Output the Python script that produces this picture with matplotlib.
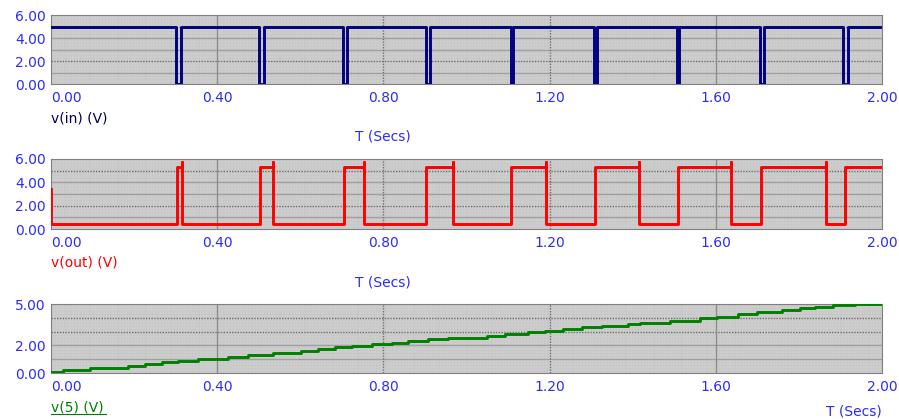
import matplotlib.pyplot as plt
from matplotlib.lines import Line2D
import numpy as np

# v(in): short drops to 0 V
vin_high = 5.0
vin_fall = [0.301, 0.501, 0.702, 0.902, 1.106, 1.306, 1.506, 1.706, 1.906]
vin_rise = [0.313, 0.513, 0.713, 0.912, 1.113, 1.313, 1.512, 1.717, 1.917]

# v(out): pulses with a spike at the falling edge
vout_start = 3.4
vout_low = 0.4
vout_high = 5.3
vout_spike = 5.7
vout_rise = [0.303, 0.504, 0.705, 0.903, 1.108, 1.310, 1.509, 1.709, 1.910]
vout_fall = [0.316, 0.534, 0.753, 0.968, 1.191, 1.414, 1.636, 1.865]

# v(5): staircase
v5_t = [0.000, 0.030, 0.094, 0.186, 0.226, 0.266, 0.305, 0.354, 0.427, 0.475,
        0.535, 0.601, 0.643, 0.683, 0.724, 0.772, 0.820, 0.860, 0.908, 0.956,
        1.049, 1.093, 1.149, 1.189, 1.233, 1.277, 1.325, 1.389, 1.418, 1.490,
        1.562, 1.602, 1.654, 1.699, 1.759, 1.803, 1.839, 1.883, 1.935, 2.000]
v5_v = [0.05, 0.20, 0.38, 0.51, 0.63, 0.77, 0.89, 1.01, 1.14, 1.30,
        1.45, 1.60, 1.72, 1.85, 1.97, 2.10, 2.20, 2.32, 2.44, 2.52,
        2.66, 2.82, 2.95, 3.07, 3.19, 3.31, 3.43, 3.53, 3.65, 3.79,
        3.98, 4.08, 4.25, 4.42, 4.54, 4.69, 4.80, 4.91, 4.98, 4.98]

x_ticks = [0.0, 0.4, 0.8, 1.2, 1.6, 2.0]

# build the traces
vin_t, vin_v = [0.0], [vin_high]
for f, r in zip(vin_fall, vin_rise):
    vin_t += [f, f, r, r]
    vin_v += [vin_high, 0.0, 0.0, vin_high]
vin_t.append(2.0)
vin_v.append(vin_high)

vout_t, vout_v = [0.0, 0.0], [vout_start, vout_low]
for i, r in enumerate(vout_rise):
    vout_t += [r, r]
    vout_v += [vout_low, vout_high]
    if i < len(vout_fall):
        f = vout_fall[i]
        vout_t += [f, f, f]
        vout_v += [vout_high, vout_spike, vout_low]
vout_t.append(2.0)
vout_v.append(vout_high)

W, H = 899, 419
fig = plt.figure(figsize=(W / 100, H / 100), dpi=100)

tick_blue = '#2b2bff'
panels = [
    # (top px, bottom px, ymax, yticks, solid grid levels, dotted grid levels)
    (15, 84, 6, [0, 2, 4, 6], [1, 3, 4], [2, 5]),
    (159, 229, 6, [0, 2, 4, 6], [1, 3, 4], [2, 5]),
    (304, 373, 5, [0, 2, 5], [1, 2], [3, 4]),
]

axes = []
for top, bot, ymax, yt, solid_h, dot_h in panels:
    ax = fig.add_axes([51 / W, (H - bot) / H, 831 / W, (bot - top) / H])
    ax.set_facecolor('#c6c6c6')
    ax.set_xlim(0, 2.0)
    ax.set_ylim(0, ymax)
    # fine background texture
    for xx in np.arange(0, 2.0, 0.0075):
        ax.axvline(xx, color='#d8d8d8', lw=0.35, zorder=0)
    for yy in np.arange(0, ymax, ymax / 23):
        ax.axhline(yy, color='#d8d8d8', lw=0.35, zorder=0)
    for yy in solid_h:
        ax.axhline(yy, color='#a0a0a0', lw=1.0, zorder=1)
    for yy in dot_h:
        ax.axhline(yy, color='#707070', lw=1.0, ls=(0, (1, 1)), zorder=1)
    for xx, st in zip([0.4, 0.8, 1.2, 1.6], ['-', ':', ':', '-']):
        if st == '-':
            ax.axvline(xx, color='#8c8c8c', lw=1.0, zorder=1)
        else:
            ax.axvline(xx, color='#707070', lw=1.0, ls=(0, (1, 1)), zorder=1)
    ax.set_yticks(yt)
    ax.set_yticklabels(['%.2f' % v for v in yt])
    ax.set_xticks(x_ticks)
    ax.set_xticklabels(['%.2f' % v for v in x_ticks])
    ax.tick_params(length=0, labelsize=10, colors=tick_blue)
    ax.tick_params(axis='x', pad=5)
    ax.tick_params(axis='y', pad=4)
    labels = ax.get_xticklabels()
    labels[0].set_horizontalalignment('left')
    for s in ax.spines.values():
        s.set_color('#808080')
        s.set_linewidth(0.8)
    axes.append(ax)

axes[0].plot(vin_t, vin_v, color='#000080', lw=2.1, zorder=3)
axes[1].plot(vout_t, vout_v, color='#ff0000', lw=2.1, zorder=3)
axes[2].step(v5_t, v5_v, where='post', color='#008000', lw=2.1, zorder=3)

def ftext(x, y, s, color, ha='left'):
    fig.text(x / W, 1 - y / H, s, color=color, fontsize=10, ha=ha, va='center')

ftext(51, 119, 'v(in) (V)', '#000050')
ftext(355, 137, 'T (Secs)', tick_blue)
ftext(51, 262, 'v(out) (V)', '#ff0000')
ftext(355, 282, 'T (Secs)', tick_blue)
ftext(51, 407, 'v(5) (V)', '#008000')
ftext(826, 411, 'T (Secs)', tick_blue)
fig.add_artist(Line2D([51 / W, 106 / W], [1 - 414 / H, 1 - 414 / H],
                      transform=fig.transFigure, color='#008000', lw=0.8))

fig.savefig('out.png', dpi=100)
